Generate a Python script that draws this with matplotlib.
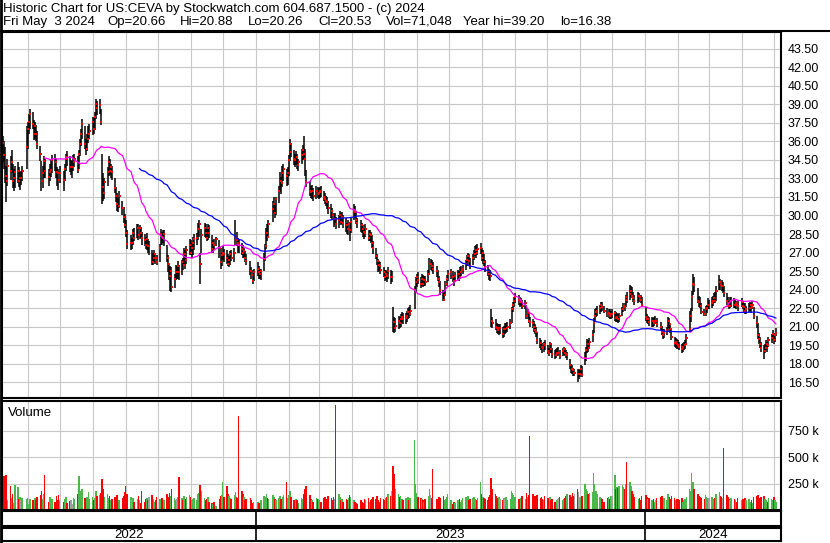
import numpy as np
import pandas as pd
import matplotlib
matplotlib.use("Agg")
import matplotlib.pyplot as plt
import matplotlib.dates as mdates
from matplotlib.lines import Line2D

plt.rcParams['font.family'] = ['Liberation Sans', 'DejaVu Sans']

# =========================
# DATA (daily bars, US:CEVA, May 2022 - May 2024)
# =========================
high = [
    36.4, 36.0, 35.5, 34.0, 34.6, 34.8, 35.3, 34.2, 33.8, 34.0, 34.3, 33.9, 33.5, 33.6, 34.0, 37.2,  # May 22
    37.6, 38.2, 38.6, 38.4, 37.7, 37.6, 37.3, 36.8, 35.6, 34.4, 34.0, 34.8, 34.6, 33.8, 34.2, 34.6, 34.9, 35.0, 34.6, 33.9, 33.8,  # Jun
    34.0, 33.6, 34.2, 35.0, 35.2, 34.8, 34.5, 34.4, 34.9, 35.0, 34.8, 35.3, 36.2, 37.0, 37.8, 37.2, 36.2, 36.6, 37.2, 37.4,  # Jul
    38.0, 37.9, 38.4, 39.4, 39.3, 39.4, 38.6, 35.0, 33.4, 33.0, 33.9, 34.8, 34.6, 34.2, 34.0, 33.0, 32.3, 31.8, 31.4, 32.0, 31.2, 30.7, 30.1,  # Aug
    29.6, 28.8, 28.4, 28.2, 28.9, 29.0, 29.3, 29.3, 29.2, 29.1, 28.7, 28.5, 28.3, 28.6, 28.1, 27.9, 27.2, 27.0, 27.2, 27.0, 26.8,  # Sep
    27.7, 28.9, 28.7, 28.8, 28.8, 27.6, 26.8, 26.0, 25.9, 25.8, 25.3, 26.0, 25.9, 26.3, 26.0, 26.4, 26.6, 27.4, 27.2, 27.5, 28.1,  # Oct
    28.0, 27.8, 28.3, 28.5, 28.6, 29.4, 29.6, 27.0, 28.9, 29.4, 29.3, 28.9, 29.3, 29.2, 28.4, 28.0, 28.1, 28.3, 28.0, 27.4, 27.0,  # Nov
    27.5, 27.3, 27.2, 26.9, 26.7, 27.1, 27.2, 27.4, 29.6, 28.7, 28.2, 28.0, 27.8, 27.6, 27.4, 27.1, 26.9, 26.3, 25.8, 25.6, 25.7,  # Dec
    26.2, 25.9, 25.7, 25.7, 27.0, 27.7, 29.0, 29.3, 29.6, 31.2, 31.5, 31.0, 31.5, 32.4, 33.5, 33.1, 34.0, 34.2, 33.8, 33.9,  # Jan 23
    34.9, 36.2, 35.9, 35.3, 35.0, 35.2, 35.0, 34.6, 35.4, 35.7, 36.4, 35.4, 33.7, 32.8, 32.4, 32.5, 32.2, 32.4, 32.3,  # Feb
    32.2, 32.3, 32.4, 32.0, 31.8, 31.6, 31.5, 31.2, 30.9, 30.6, 30.2, 30.2, 29.9, 30.0, 30.4, 30.2, 30.3, 30.0, 29.8, 29.4, 29.6, 29.5, 29.8,  # Mar
    30.9, 30.8, 30.3, 29.8, 29.6, 29.4, 29.2, 29.0, 29.3, 28.8, 28.8, 28.7, 28.4, 27.9, 27.4, 26.9, 26.5, 26.3, 26.2,  # Apr
    25.8, 25.6, 25.6, 25.5, 25.8, 25.6, 25.5, 22.6, 21.8, 21.7, 21.9, 21.8, 22.0, 22.2, 22.1, 22.1, 22.3, 22.5, 22.6, 22.8, 24.3, 25.0,  # May
    25.3, 25.4, 25.0, 25.3, 25.2, 25.1, 25.1, 25.6, 26.6, 26.5, 26.4, 26.2, 25.9, 25.6, 25.1, 24.7, 24.0, 23.9, 24.7, 25.2, 25.6,  # Jun
    25.7, 25.5, 25.2, 25.4, 25.6, 25.5, 25.8, 25.9, 26.0, 26.4, 26.8, 27.0, 26.9, 26.6, 26.9, 27.2, 27.5, 27.6, 27.7, 27.8,  # Jul
    27.4, 27.2, 26.9, 26.4, 26.0, 25.7, 25.6, 22.4, 21.8, 21.6, 21.3, 21.2, 21.2, 21.2, 21.0, 21.1, 21.3, 21.3, 21.4, 21.6, 22.6, 23.0, 23.4,  # Aug
    23.7, 23.6, 23.4, 23.3, 23.2, 23.2, 22.8, 22.4, 22.2, 21.8, 21.6, 21.5, 21.2, 21.0, 20.6, 20.1, 19.9, 19.7, 19.8, 19.9,  # Sep
    19.5, 19.3, 19.8, 19.7, 19.3, 19.1, 19.2, 19.3, 19.4, 19.1, 19.3, 19.4, 19.3, 19.1, 19.0, 18.4, 18.0, 17.9, 17.7, 17.6, 17.6, 17.5,  # Oct
    17.6, 17.9, 17.8, 19.0, 19.4, 20.0, 19.9, 20.1, 20.7, 21.7, 22.4, 22.5, 22.7, 22.8, 23.0, 23.0, 22.7, 22.5, 22.4, 22.4, 22.3,  # Nov
    22.4, 22.3, 22.2, 22.1, 22.0, 22.1, 22.6, 22.9, 22.9, 23.6, 23.8, 24.4, 24.3, 24.2, 23.8, 23.6, 23.8, 23.7, 23.6, 23.4,  # Dec
    22.6, 22.0, 21.9, 21.8, 21.8, 21.7, 21.8, 21.9, 21.7, 21.4, 21.1, 20.8, 20.8, 21.0, 21.8, 21.7, 21.3, 20.9, 20.2, 20.1, 20.0,  # Jan 24
    19.9, 19.8, 19.6, 19.7, 19.8, 19.9, 20.4, 22.3, 22.5, 23.9, 25.3, 25.0, 24.1, 23.5, 23.4, 22.9, 22.4, 22.7, 22.8, 23.3,  # Feb
    23.2, 23.4, 23.5, 23.7, 23.8, 24.3, 25.2, 24.9, 24.8, 24.6, 24.3, 23.7, 23.4, 23.1, 23.4, 23.4, 23.3, 23.2, 23.1, 23.1,  # Mar
    23.3, 23.1, 22.9, 22.9, 22.7, 22.9, 23.0, 22.9, 23.1, 22.6, 21.9, 21.3, 20.5, 20.2, 19.8, 19.5, 19.6, 19.9, 19.8, 20.2, 20.4, 20.7,  # Apr
    20.5, 20.5, 20.88,  # May 24
]
low = [
    34.3, 33.8, 32.6, 31.1, 32.4, 32.9, 33.4, 32.2, 32.0, 32.2, 32.6, 32.3, 32.1, 32.5, 32.8, 33.8,
    35.4, 36.6, 37.0, 37.0, 36.1, 36.2, 36.0, 35.4, 34.4, 32.0, 32.2, 33.0, 33.0, 32.4, 32.8, 33.1, 33.4, 33.6, 33.0, 32.4, 32.1,
    32.6, 32.0, 32.8, 33.6, 34.0, 33.5, 33.3, 33.0, 33.6, 33.9, 33.4, 33.8, 34.8, 35.6, 36.2, 35.4, 34.9, 35.2, 35.9, 36.2,
    36.5, 36.6, 36.9, 37.8, 38.1, 38.2, 37.3, 30.9, 31.2, 31.3, 32.4, 33.2, 33.3, 33.0, 32.9, 31.8, 31.1, 30.4, 30.3, 30.6, 30.0, 29.4, 29.0,
    28.3, 27.3, 27.2, 27.3, 27.6, 27.9, 28.2, 28.0, 28.1, 28.2, 27.6, 27.5, 27.3, 27.2, 27.0, 26.8, 26.0, 26.0, 26.2, 26.1, 26.0,
    26.2, 27.6, 27.6, 27.8, 27.5, 26.2, 25.4, 24.8, 23.9, 23.8, 24.1, 24.8, 24.9, 24.9, 24.8, 25.2, 25.6, 25.9, 25.7, 26.1, 26.8,
    26.8, 26.6, 26.8, 27.2, 27.6, 28.0, 28.3, 24.5, 27.0, 28.3, 28.2, 27.9, 28.0, 28.2, 27.0, 27.0, 27.2, 27.5, 26.6, 25.7, 25.9,
    26.4, 26.2, 26.1, 25.9, 25.8, 26.0, 26.3, 26.2, 27.6, 27.5, 27.0, 27.0, 26.8, 26.6, 26.6, 26.2, 26.0, 25.2, 24.9, 24.5, 24.7,
    25.1, 24.9, 24.9, 24.8, 25.5, 26.3, 27.3, 27.9, 28.2, 29.5, 30.2, 29.8, 30.0, 31.0, 31.9, 31.7, 32.3, 32.8, 32.4, 32.5,
    33.2, 34.4, 34.7, 34.1, 33.9, 34.1, 33.8, 33.6, 34.2, 34.5, 34.6, 33.2, 32.3, 31.6, 31.4, 31.3, 31.2, 31.3, 31.4,
    31.3, 31.4, 31.5, 31.2, 30.9, 30.8, 30.5, 30.1, 29.8, 29.6, 29.1, 29.2, 28.9, 29.0, 29.4, 29.2, 29.3, 29.0, 28.7, 28.5, 28.4, 27.9, 28.6,
    29.6, 29.8, 29.3, 29.0, 28.7, 28.6, 28.3, 28.1, 28.3, 27.9, 27.9, 27.8, 27.4, 26.9, 26.5, 26.0, 25.4, 25.5, 25.3,
    25.0, 24.7, 24.8, 24.6, 24.9, 24.5, 24.6, 20.6, 20.5, 20.6, 20.8, 20.9, 21.0, 21.3, 21.2, 21.2, 21.4, 21.6, 21.7, 21.9, 22.4, 23.8,
    24.2, 24.5, 24.1, 24.3, 24.2, 24.3, 24.3, 24.6, 25.2, 25.6, 25.5, 25.3, 25.0, 24.7, 24.2, 23.6, 23.1, 23.1, 23.5, 24.3, 24.7,
    24.9, 24.6, 24.3, 24.6, 24.8, 24.7, 24.9, 25.1, 25.3, 25.6, 25.9, 26.2, 26.0, 25.7, 26.0, 26.4, 26.7, 26.6, 26.8, 26.9,
    26.3, 26.1, 25.9, 25.4, 25.1, 24.8, 24.7, 21.0, 20.9, 20.7, 20.5, 20.4, 20.3, 20.4, 20.1, 20.2, 20.4, 20.5, 20.6, 20.8, 21.3, 22.2, 22.6,
    22.9, 22.8, 22.6, 22.7, 22.4, 22.4, 21.6, 21.6, 21.3, 21.0, 20.9, 20.6, 20.4, 20.2, 19.6, 19.3, 19.1, 18.9, 19.0, 19.1,
    18.8, 18.6, 18.9, 18.9, 18.5, 18.4, 18.5, 18.6, 18.6, 18.4, 18.6, 18.7, 18.6, 18.5, 18.3, 17.6, 17.3, 17.2, 17.0, 17.0, 16.5, 16.8,
    16.9, 17.1, 16.9, 17.9, 18.2, 18.9, 19.0, 19.2, 19.8, 20.5, 21.4, 21.8, 21.9, 22.0, 22.2, 22.3, 22.1, 21.8, 21.7, 21.6, 21.6,
    21.7, 21.5, 21.4, 21.4, 21.3, 21.4, 21.9, 22.2, 22.3, 22.6, 22.9, 23.2, 23.4, 23.3, 23.0, 22.8, 22.9, 23.0, 22.9, 22.6,
    21.5, 21.3, 21.2, 21.1, 21.0, 21.0, 21.1, 21.2, 21.0, 20.7, 20.3, 20.0, 20.1, 20.3, 20.6, 20.9, 20.5, 19.9, 19.4, 19.3, 19.2,
    19.2, 19.1, 18.9, 19.0, 19.1, 19.2, 19.5, 20.6, 21.4, 22.3, 23.6, 23.8, 22.9, 22.6, 22.5, 22.0, 21.9, 21.9, 22.1, 22.4,
    22.4, 22.5, 22.7, 22.9, 22.9, 23.1, 24.0, 24.0, 23.9, 23.7, 23.4, 22.8, 22.6, 22.4, 22.5, 22.6, 22.5, 22.5, 22.4, 22.3,
    22.6, 22.4, 22.2, 22.0, 22.0, 22.2, 22.3, 22.1, 22.4, 21.6, 20.9, 20.0, 19.6, 19.3, 19.0, 18.4, 18.9, 19.1, 19.0, 19.4, 19.7, 19.9,
    19.6, 19.8, 20.26,
]
close = [
    35.9, 34.9, 33.2, 32.8, 34.0, 33.6, 34.3, 32.8, 33.0, 33.5, 33.6, 32.8, 33.0, 33.0, 33.6, 35.5,
    37.0, 37.6, 38.2, 37.4, 36.6, 37.2, 36.6, 35.8, 35.0, 32.8, 33.4, 34.4, 33.6, 33.1, 33.5, 33.7, 34.5, 34.3, 33.5, 33.4, 32.9,
    33.4, 32.9, 33.8, 34.7, 34.6, 33.9, 33.9, 33.9, 34.3, 34.6, 33.7, 35.0, 35.8, 36.6, 37.4, 35.8, 35.4, 36.2, 36.6, 36.8,
    37.6, 37.0, 38.0, 39.0, 38.7, 38.9, 37.6, 32.3, 31.8, 32.7, 33.5, 34.3, 33.6, 33.9, 33.5, 32.2, 31.6, 30.9, 30.8, 31.6, 30.6, 29.9, 29.2,
    28.6, 27.7, 27.8, 27.8, 28.6, 28.2, 29.0, 28.4, 29.0, 28.6, 28.2, 28.0, 27.6, 28.1, 27.5, 27.5, 26.2, 26.6, 26.9, 26.6, 26.2,
    27.4, 28.5, 28.3, 28.2, 28.5, 26.6, 26.1, 25.1, 25.5, 24.2, 24.9, 25.4, 25.4, 25.9, 25.4, 26.2, 26.0, 26.9, 26.4, 27.2, 27.6,
    27.0, 27.4, 27.8, 28.1, 28.2, 28.9, 29.3, 26.1, 28.4, 29.0, 28.6, 28.2, 29.0, 28.6, 27.3, 27.8, 27.6, 28.1, 27.4, 26.2, 26.8,
    27.0, 26.9, 26.6, 26.1, 26.4, 26.9, 26.6, 27.0, 28.2, 28.0, 27.8, 27.6, 27.3, 27.0, 27.1, 26.6, 26.3, 25.5, 25.2, 24.7, 25.4,
    25.7, 25.4, 25.3, 25.5, 26.5, 27.5, 28.6, 28.3, 29.3, 30.5, 30.9, 30.2, 31.3, 32.0, 32.8, 32.6, 33.4, 33.8, 33.2, 33.4,
    34.5, 35.8, 35.1, 34.6, 34.5, 34.7, 34.1, 34.3, 34.9, 35.3, 35.0, 34.6, 32.7, 32.0, 31.9, 32.0, 31.6, 32.0, 31.7,
    31.8, 32.0, 31.9, 31.5, 31.3, 31.2, 31.1, 30.6, 30.4, 30.0, 29.7, 29.7, 29.3, 29.6, 30.0, 29.5, 29.9, 29.4, 29.2, 28.9, 29.3, 28.8, 29.5,
    30.4, 30.3, 29.6, 29.4, 29.2, 28.9, 28.7, 28.6, 28.9, 28.2, 28.5, 28.4, 27.8, 27.4, 26.7, 26.3, 26.0, 25.9, 25.6,
    25.4, 25.0, 25.3, 25.1, 25.5, 25.0, 25.0, 21.4, 20.9, 21.1, 21.5, 21.3, 21.6, 21.8, 21.6, 21.7, 21.9, 22.2, 22.0, 22.3, 24.0, 24.6,
    25.0, 24.8, 24.5, 24.9, 24.5, 24.8, 24.6, 25.3, 26.1, 26.1, 25.9, 25.7, 25.5, 24.9, 24.6, 24.0, 23.2, 23.6, 24.5, 24.9, 25.3,
    25.4, 25.0, 24.7, 25.1, 25.3, 25.0, 25.4, 25.6, 25.7, 26.1, 26.4, 26.75, 26.3, 25.9, 26.6, 26.9, 27.2, 27.0, 27.3, 27.4,
    26.6, 27.0, 26.2, 25.8, 25.5, 25.3, 25.1, 21.5, 21.3, 21.0, 20.9, 20.7, 20.9, 20.9, 20.4, 20.8, 20.8, 20.9, 21.0, 21.3, 22.4, 22.8, 23.1,
    23.4, 23.2, 23.0, 23.1, 22.7, 22.9, 21.9, 22.1, 21.5, 21.35, 21.3, 21.0, 20.7, 20.6, 19.9, 19.7, 19.4, 19.3, 19.6, 19.5,
    19.05, 18.9, 19.6, 19.2, 18.8, 18.7, 18.9, 18.9, 18.9, 18.6, 19.05, 19.2, 18.9, 18.7, 18.8, 17.9, 17.6, 17.5, 17.3, 17.3, 17.2, 17.2,
    17.2, 17.6, 17.1, 18.5, 19.1, 19.6, 19.3, 19.8, 20.3, 21.3, 21.9, 22.2, 22.3, 22.5, 22.8, 22.6, 22.3, 22.0, 22.1, 21.9, 22.0,
    22.0, 22.1, 21.7, 21.8, 21.6, 21.9, 22.4, 22.7, 22.6, 23.4, 23.2, 23.65, 23.9, 23.5, 23.3, 23.1, 23.5, 23.4, 23.2, 22.8,
    21.8, 21.6, 21.6, 21.35, 21.5, 21.3, 21.5, 21.5, 21.2, 21.0, 20.6, 20.3, 20.5, 20.7, 21.5, 21.2, 20.8, 20.2, 19.7, 19.8, 19.6,
    19.5, 19.4, 19.2, 19.4, 19.5, 19.6, 20.1, 20.8, 21.9, 23.4, 24.5, 24.4, 23.1, 23.0, 22.7, 22.2, 22.0, 22.4, 22.5, 22.8,
    22.8, 22.9, 23.1, 23.3, 23.1, 23.9, 24.6, 24.4, 24.3, 24.3, 23.7, 23.1, 22.9, 22.7, 22.7, 23.1, 22.8, 22.9, 22.8, 22.7,
    23.0, 22.7, 22.6, 22.3, 22.4, 22.5, 22.8, 22.6, 22.8, 21.9, 21.3, 20.3, 20.0, 19.6, 19.3, 19.05, 19.3, 19.6, 19.5, 19.9, 20.1, 20.4,
    19.9, 20.3, 20.53,
]
# volume in thousands of shares
volume = [
    210, 320, 200, 330, 90, 230, 110, 150, 70, 240, 220, 100, 120, 90, 110, 100,
    115, 60, 100, 95, 70, 110, 90, 120, 140, 180, 100, 150, 330, 80, 120, 90, 100, 75, 130, 95, 140,
    90, 80, 100, 120, 70, 85, 95, 60, 110, 100, 150, 320, 180, 140, 200, 110, 90, 120, 170, 100,
    120, 90, 110, 180, 130, 140, 160, 290, 200, 120, 150, 110, 130, 90, 100, 120, 100, 140, 80, 90, 110, 130, 170,
    230, 150, 120, 90, 110, 80, 100, 130, 90, 70, 180, 80, 100, 110, 90, 120, 140, 100, 80, 90, 120,
    100, 90, 110, 80, 90, 150, 120, 160, 130, 200, 110, 90, 100, 120, 310, 110, 90, 130, 100, 120, 140,
    120, 90, 100, 110, 90, 150, 160, 240, 180, 110, 90, 100, 120, 80, 70, 60, 80, 40, 100, 130, 140,
    260, 120, 230, 150, 130, 110, 100, 140, 170, 120, 110, 885, 180, 150, 120, 90, 100, 110, 90, 70, 80,
    80, 70, 60, 90, 130, 120, 150, 110, 100, 140, 120, 100, 90, 110, 130, 100, 120, 140, 260, 110,
    140, 180, 120, 90, 80, 100, 90, 70, 110, 100, 150, 200, 230, 140, 100, 90, 80, 110, 100,
    100, 90, 80, 110, 120, 90, 100, 130, 110, 90, 120, 100, 990, 150, 120, 90, 100, 80, 100, 90, 110, 140, 120,
    90, 80, 70, 60, 90, 80, 70, 100, 90, 110, 80, 90, 100, 120, 100, 130, 90, 80, 110,
    100, 90, 110, 120, 150, 130, 180, 420, 340, 200, 150, 120, 130, 100, 90, 110, 100, 120, 90, 110, 660, 250,
    160, 120, 110, 100, 90, 80, 100, 130, 200, 140, 110, 390, 100, 90, 120, 110, 130, 90, 100, 120, 150,
    90, 60, 80, 70, 90, 100, 80, 90, 110, 120, 100, 130, 90, 100, 110, 120, 100, 90, 110, 260,
    150, 120, 110, 100, 90, 120, 140, 300, 200, 150, 130, 110, 120, 100, 90, 110, 100, 120, 90, 100, 180, 160, 140,
    120, 100, 90, 110, 130, 100, 160, 120, 140, 700, 150, 120, 130, 100, 140, 110, 120, 100, 90, 130,
    110, 100, 120, 90, 100, 80, 90, 100, 110, 120, 90, 100, 110, 130, 150, 140, 120, 160, 130, 150, 200, 170,
    120, 110, 130, 250, 200, 180, 150, 160, 170, 350, 250, 180, 150, 120, 110, 100, 80, 110, 120, 100, 130,
    130, 330, 200, 220, 210, 230, 240, 220, 200, 250, 455, 260, 230, 180, 150, 120, 100, 110, 90, 130,
    140, 120, 100, 110, 90, 100, 80, 90, 110, 120, 130, 100, 110, 90, 150, 120, 100, 130, 110, 90, 100,
    100, 90, 110, 80, 90, 100, 120, 200, 180, 350, 260, 200, 150, 130, 120, 110, 100, 140, 120, 110,
    110, 120, 100, 90, 110, 150, 170, 130, 120, 110, 590, 140, 120, 100, 90, 110, 100, 90, 80, 110,
    90, 100, 80, 110, 90, 100, 80, 90, 70, 120, 130, 140, 110, 100, 120, 130, 100, 90, 80, 110, 100, 90,
    120, 90, 71,
]

holidays = ['2022-05-30', '2022-06-20', '2022-07-04', '2022-09-05', '2022-11-24', '2022-12-26',
            '2023-01-02', '2023-01-16', '2023-02-20', '2023-04-07', '2023-05-29', '2023-06-19',
            '2023-07-04', '2023-09-04', '2023-11-23', '2023-12-25', '2024-01-01', '2024-01-15',
            '2024-02-19', '2024-03-29']
dates = pd.bdate_range('2022-05-09', '2024-05-03', freq='C', holidays=holidays)
n = min(len(dates), len(close), len(high), len(low), len(volume))
dates = dates[-n:]
close = np.array(close[-n:])
high = np.array(high[-n:])
low = np.array(low[-n:])
volume = np.array(volume[-n:])

header1 = "Historic Chart for US:CEVA by Stockwatch.com 604.687.1500 - (c) 2024"
header2 = ["Fri May  3 2024", "Op=20.66", "Hi=20.88", "Lo=20.26", "Cl=20.53",
           "Vol=71,048", "Year hi=39.20", "lo=16.38"]

# =========================
# LAYOUT
# =========================
W, H = 830, 543
fig = plt.figure(figsize=(W / 100, H / 100), dpi=100)

def box(l, t, r, b):
    return [l / W, 1 - b / H, (r - l) / W, (b - t) / H]

ax = fig.add_axes(box(2, 32, 781, 398))
axv = fig.add_axes(box(2, 401, 781, 510))
axm = fig.add_axes(box(2, 511, 781, 526))
axy = fig.add_axes(box(2, 528, 781, 541))

x = mdates.date2num(dates)
jan23 = mdates.date2num(pd.Timestamp('2023-01-01'))
jan24 = mdates.date2num(pd.Timestamp('2024-01-01'))
pxday = 1.066
xmin = jan23 - (255.7 - 2) / pxday
xmax = jan23 + (781 - 255.7) / pxday

grid_c = '#c8c8c8'
months = mdates.date2num(pd.date_range('2022-06-01', '2024-05-01', freq='MS'))

for a in (ax, axv, axm, axy):
    a.set_xlim(xmin, xmax)
    a.set_xticks([])
    for s in a.spines.values():
        s.set_linewidth(1.5)
        s.set_color('black')

# =========================
# PRICE PANEL
# =========================
ax.set_ylim(15.24, 44.84)
yt = np.arange(16.5, 43.51, 1.5)
for v in yt:
    ax.axhline(v, color=grid_c, lw=0.8, zorder=0)
for m in months:
    ax.axvline(m, color=grid_c, lw=0.8, zorder=0)

ax.vlines(x, low, high, color='black', lw=1.1, zorder=2)
ax.plot(x + 0.3, close, 's', color='red', ms=1.5, mew=0, zorder=3)

ma_short = pd.Series(close).rolling(29).mean()
ma_long = pd.Series(close).rolling(89).mean()
ax.plot(x, ma_short, color='#ff00ff', lw=0.9, zorder=4)
ax.plot(x, ma_long, color='#0000ff', lw=0.9, zorder=4)

ax.yaxis.tick_right()
ax.set_yticks(yt)
ax.set_yticklabels(['%.2f' % v for v in yt])
ax.tick_params(axis='y', length=0, pad=5, labelsize=9)
ax.text(7, 42, 'US:CEVA', transform=None, fontsize=9.5)

# =========================
# VOLUME PANEL
# =========================
diff = np.diff(close, prepend=close[0])
colors = np.where(diff > 0, '#4cb84c', np.where(diff < 0, '#ff0000', '#a0a0a0'))
axv.set_ylim(0, 1030)
for v in (250, 500, 750):
    axv.axhline(v, color=grid_c, lw=0.8, zorder=0)
for m in months:
    axv.axvline(m, color=grid_c, lw=0.8, zorder=0)
axv.bar(x, volume, width=1.5, color=colors, linewidth=0, zorder=2)
axv.yaxis.tick_right()
axv.set_yticks([250, 500, 750])
axv.set_yticklabels(['250 k', '500 k', '750 k'])
axv.tick_params(axis='y', length=0, pad=5, labelsize=9)
axv.text(8, 543 - 413, 'Volume', transform=None, fontsize=9.5, va='center')

# =========================
# YEAR ROWS
# =========================
for a in (axm, axy):
    a.set_yticks([])
    a.set_ylim(0, 1)
    for d in (jan23, jan24):
        a.axvline(d, color='black', lw=1.2)
for lbl, a0, a1 in (('2022', xmin, jan23), ('2023', jan23, jan24), ('2024', jan24, xmax)):
    axy.text((a0 + a1) / 2, 0.45, lbl, ha='center', va='center', fontsize=9.5)

# =========================
# HEADER
# =========================
fig.text(3 / W, 1 - 9 / H, header1, fontsize=9.5, va='center')
for txt, px in zip(header2, (3, 107, 180, 248, 318, 386, 463, 560)):
    fig.text(px / W, 1 - 22 / H, txt, fontsize=9.5, va='center')
fig.add_artist(Line2D([0, 1], [1 - 31 / H] * 2, color='black', lw=1.5))
fig.add_artist(Line2D([1 / W] * 2, [0, 1], color='black', lw=2))

fig.savefig('out.png', dpi=100)
